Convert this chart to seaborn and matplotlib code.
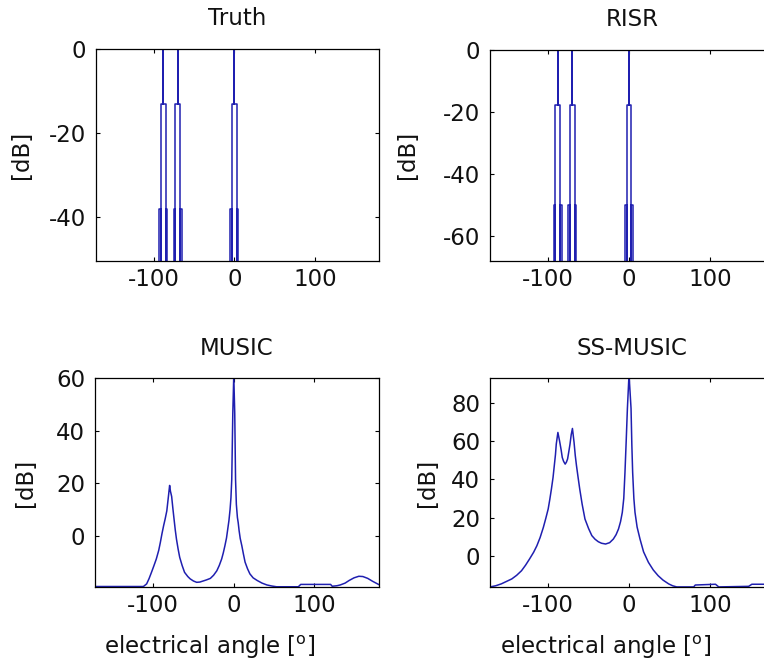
import matplotlib
matplotlib.use("Agg")
import matplotlib.pyplot as plt
import seaborn as sns
import pandas as pd

# source directions and the stair levels of the ideal spectra
source_angles = [-88, -70, 0]
truth_steps = [-38, -13]
risr_steps = [-50, -18]
step_offsets = [5, 3]

# MUSIC pseudo-spectrum
music_angle = [-172, -150, -125, -112, -108, -105, -102, -99, -96, -93, -91, -89, -87,
               -85, -83, -81, -79.5, -78.5, -77, -75.5, -74, -72.5, -71, -69, -67,
               -64, -61, -57, -54, -50, -46, -42, -38, -34, -29, -25, -21, -18, -15,
               -13, -11, -9, -7.5, -6, -4.6, -3.5, -2.5, -1.2, 0, 1.2, 2.2, 3.2, 4.5,
               5.5, 6.6, 8, 10, 12, 14, 17, 20, 24, 29, 35, 41, 47, 53, 80, 83, 120,
               122, 128, 132, 138, 143, 149, 155, 160, 166, 172, 180]
music_db = [-19.3, -19.3, -19.3, -19.3, -18.3, -16.3, -13.9, -11.4, -8.8, -5.5, -2.5, 0.8, 3.8,
            6.5, 9.5, 15.0, 19.2, 17.0, 15.0, 10.5, 6.3, 2.2, -1.3, -5.0, -8.2,
            -11.3, -13.9, -15.5, -16.4, -17.2, -17.7, -17.6, -17.2, -16.8, -16.2, -15.0, -13.3, -11.3, -8.8,
            -6.5, -3.8, -0.8, 2.5, 5.8, 10.0, 14.5, 21.5, 46.7, 61.0, 46.7, 21.5, 12.0, 7.0,
            5.0, 2.0, -1.0, -3.8, -7.0, -10.0, -12.5, -14.5, -16.0, -17.0, -18.0, -18.7, -19.1, -19.4,
            -19.4, -18.5, -18.5, -19.2, -19.0, -18.7, -18.0, -17.0, -16.0, -15.4, -15.5, -16.2, -17.3, -18.6]

# SS-MUSIC pseudo-spectrum
ssmusic_angle = [-172, -165, -158, -152, -145, -139, -133, -128, -123, -118, -114, -110,
                 -106, -103, -100, -98, -96, -94, -92.5, -91, -90, -88, -86, -84,
                 -82.6, -81, -79, -77.5, -76, -74.5, -73, -71.5, -70, -68, -66.5, -65,
                 -63, -61, -58, -54.5, -50, -46, -42, -38, -34, -29, -24, -19.4, -16,
                 -13, -10.5, -8.3, -6.5, -5, -3.5, -2, 0, 2.5, 3.5, 4.5, 6, 7.4, 10,
                 13.6, 18, 24, 30, 36, 42, 49, 54, 59, 80, 82, 107, 111, 148, 152, 180]
ssmusic_db = [-16.4, -15.8, -14.8, -13.6, -12.2, -10.3, -7.9, -5.0, -1.7, 1.8, 5.2, 9.5,
              14.8, 19.5, 24.5, 29.5, 35.0, 41.0, 47.0, 53.0, 58.5, 64.6, 60.3, 55.5,
              51.5, 49.5, 48.0, 49.0, 50.7, 54.5, 58.5, 63.5, 66.7, 59.4, 52.5, 47.2,
              41.0, 35.0, 27.0, 19.2, 14.2, 10.5, 8.6, 7.3, 6.5, 6.1, 6.8, 8.7, 11.0,
              14.0, 17.8, 22.7, 30.0, 43.7, 60.0, 77.2, 95.0, 77.2, 58.0, 43.7, 30.0, 22.7, 15.0,
              8.7, 2.0, -3.5, -7.5, -10.5, -12.8, -14.8, -15.8, -16.4, -16.4, -15.4, -15.0, -16.4, -16.1, -15.0, -15.0]

x_ticks = [-100, 0, 100]
x_range = (-172, 180)


def spike_path(levels, floor):
    # staircase outline of each ideal spike, as MATLAB renders it
    ang, val = [x_range[0]], [floor]
    lo, hi = levels
    wo, wi = step_offsets
    for s in source_angles:
        ang += [s - wo, s - wo, s - wi, s - wi, s - wi, s, s, s, s + wi, s + wi, s + wi, s + wo, s + wo]
        val += [floor, lo, lo, floor, hi, hi, 0, hi, hi, floor, lo, lo, floor]
    ang.append(x_range[1])
    val.append(floor)
    return pd.DataFrame({"angle": ang, "db": val})


sns.set_style("ticks")
plt.rcParams["font.family"] = ["DejaVu Sans"]
plt.rcParams["axes.unicode_minus"] = False
plt.rcParams["text.color"] = "#111111"

W, H = 764, 672
fig = plt.figure(figsize=(W / 100, H / 100), dpi=100)


def px_axes(x0, y0, x1, y1):
    return fig.add_axes([x0 / W, 1 - y1 / H, (x1 - x0) / W, (y1 - y0) / H])


ax_tl = px_axes(95.7, 49, 379.3, 261)
ax_tr = px_axes(490, 49.5, 774.5, 261)
ax_bl = px_axes(95, 378.3, 379, 587.3)
ax_br = px_axes(490, 378.3, 774.5, 587.3)

line_color = "#1f1fb0"
fs = 16.5

panels = [
    (ax_tl, spike_path(truth_steps, -60), "Truth", (-50.5, 0), [0, -20, -40], 11),
    (ax_tr, spike_path(risr_steps, -90), "RISR", (-68, 0), [0, -20, -40, -60], 17),
    (ax_bl, pd.DataFrame({"angle": music_angle, "db": music_db}), "MUSIC", (-19.6, 60), [60, 40, 20, 0], 14),
    (ax_br, pd.DataFrame({"angle": ssmusic_angle, "db": ssmusic_db}), "SS-MUSIC", (-16.6, 93), [80, 60, 40, 20, 0], 9),
]

for ax, df, title, ylim, yticks, lpad in panels:
    sns.lineplot(data=df, x="angle", y="db", ax=ax, sort=False, estimator=None,
                 color=line_color, linewidth=1.1)
    ax.set_xlim(*x_range)
    ax.set_ylim(*ylim)
    ax.set_xticks(x_ticks)
    ax.set_yticks(yticks)
    ax.tick_params(direction="in", length=3, width=0.8, top=True, right=True,
                   labelsize=fs, colors="black", labelcolor="#111111")
    ax.tick_params(axis="x", pad=5)
    ax.tick_params(axis="y", pad=7)
    for sp in ax.spines.values():
        sp.set_visible(True)
        sp.set_linewidth(0.9)
        sp.set_color("black")
    ax.set_title(title, fontsize=fs, pad=17, color="#111111")
    ax.set_ylabel("[dB]", fontsize=fs, labelpad=lpad, color="#111111")
    ax.set_xlabel("")

for ax in (ax_bl, ax_br):
    ax.set_xlabel(r"electrical angle [$^{\mathrm{o}}$]", fontsize=fs, color="#111111")
    ax.xaxis.set_label_coords(0.405, -0.222)
    ax.xaxis.label.set_va("top")

fig.savefig("out.png", dpi=100)
